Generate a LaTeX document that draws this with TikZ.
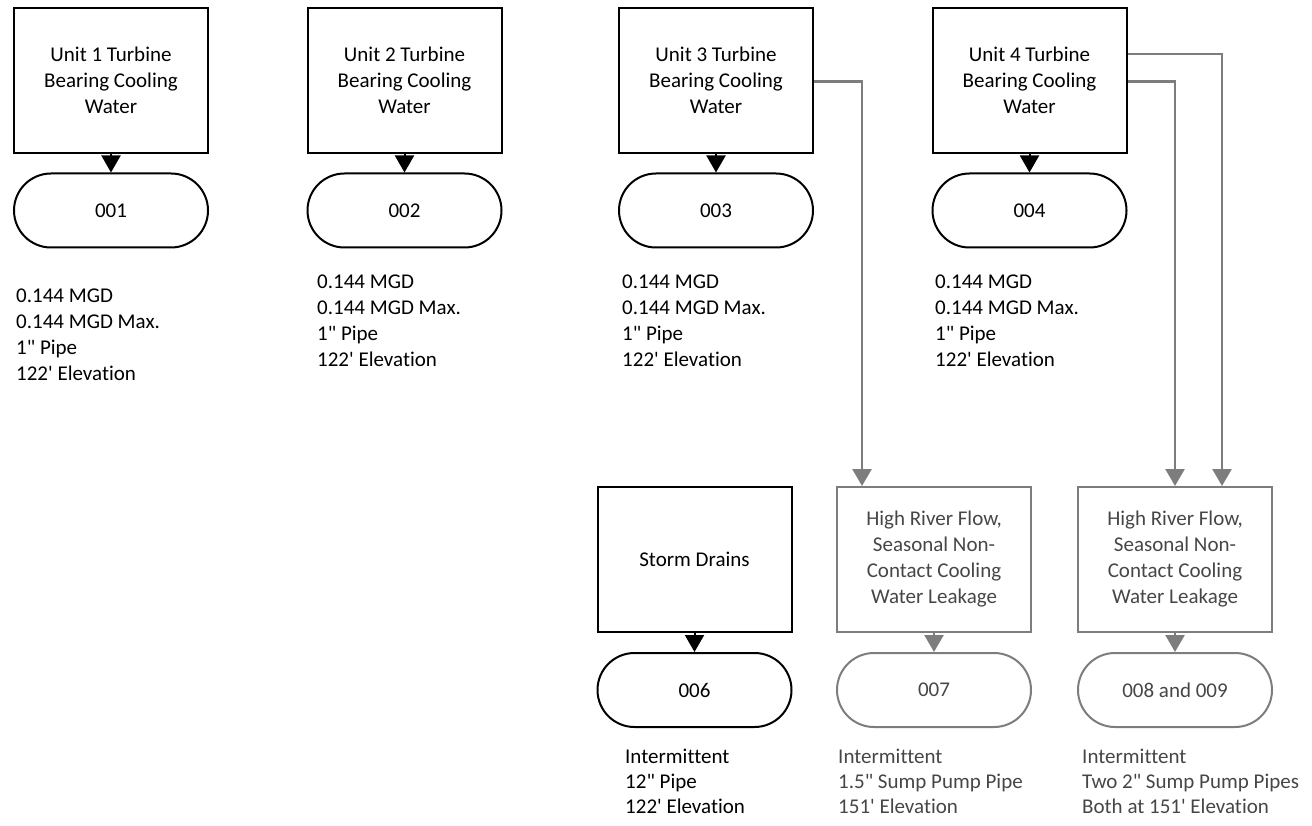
\documentclass[tikz,border=0pt]{standalone}
\usepackage{fontspec}
\setmainfont{Carlito}[Ligatures={NoCommon}]
\usetikzlibrary{arrows.meta}
\definecolor{leakgray}{RGB}{125,125,125}
\definecolor{leaktext}{RGB}{70,70,70}
\newcommand{\ft}{\textquotesingle}
\newcommand{\inch}{\textquotedbl}

\begin{document}
\begin{tikzpicture}[x=1pt,y=-1pt,
  every node/.style={font=\fontsize{21}{26}\selectfont},
  unitbox/.style={draw, line width=2pt, minimum width=194pt, minimum height=145pt, align=center, inner sep=0pt},
  outfall/.style={draw, line width=2pt, minimum width=194pt, minimum height=74pt, rounded corners=37pt, inner sep=0pt},
  leakbox/.style={unitbox, draw=leakgray, text=leaktext},
  leakout/.style={outfall, draw=leakgray, text=leaktext},
  info/.style={anchor=north west, align=left, inner sep=0pt},
  flow/.style={line width=2pt, -{Triangle[length=17pt,width=19pt]}},
  leakflow/.style={flow, leakgray, line width=2.5pt, rounded corners=0pt}]
 \useasboundingbox (0,0) rectangle (1312,826);
 % turbine bearing cooling water
 \node[unitbox] (u1) at (111,80.5) {Unit 1 Turbine\\Bearing Cooling\\Water};
 \node[unitbox] (u2) at (404.5,80.5) {Unit 2 Turbine\\Bearing Cooling\\Water};
 \node[unitbox] (u3) at (716,80.5) {Unit 3 Turbine\\Bearing Cooling\\Water};
 \node[unitbox] (u4) at (1029.5,80.5) {Unit 4 Turbine\\Bearing Cooling\\Water};
 \node[outfall] (o1) at (111,210.5) {001};
 \node[outfall] (o2) at (404.5,210.5) {002};
 \node[outfall] (o3) at (716,210.5) {003};
 \node[outfall] (o4) at (1029.5,210.5) {004};
 \draw[flow] (u1) -- (o1);
 \draw[flow] (u2) -- (o2);
 \draw[flow] (u3) -- (o3);
 \draw[flow] (u4) -- (o4);
 \node[info] (t1) at (16,289) {0.144 MGD\\0.144 MGD Max.\\1\inch{} Pipe\\122\ft{} Elevation};
 \node[info] (t2) at (317,275) {0.144 MGD\\0.144 MGD Max.\\1\inch{} Pipe\\122\ft{} Elevation};
 \node[info] (t3) at (622,275) {0.144 MGD\\0.144 MGD Max.\\1\inch{} Pipe\\122\ft{} Elevation};
 \node[info] (t4) at (935,275) {0.144 MGD\\0.144 MGD Max.\\1\inch{} Pipe\\122\ft{} Elevation};
 % storm drains and leakage
 \node[unitbox] (storm) at (694.5,559.5) {Storm Drains};
 \node[leakbox] (lk7) at (934,559.5) {High River Flow,\\Seasonal Non-\\Contact Cooling\\Water Leakage};
 \node[leakbox] (lk8) at (1175,559.5) {High River Flow,\\Seasonal Non-\\Contact Cooling\\Water Leakage};
 \node[outfall] (o6) at (694.5,690) {006};
 \node[leakout] (o7) at (934,690) {007};
 \node[leakout] (o8) at (1175,690) {008 and 009};
 \draw[flow] (storm) -- (o6);
 \draw[leakflow] (lk7) -- (o7);
 \draw[leakflow] (lk8) -- (o8);
 \draw[leakflow] ([yshift=-1pt]u3.east) -| ([xshift=-72pt]lk7.north);
 \draw[leakflow] ([yshift=-1pt]u4.east) -| (lk8.north);
 \draw[leakflow] ([yshift=26.5pt]u4.east) -| ([xshift=47pt]lk8.north);
 \node[info, font=\fontsize{21}{25}\selectfont] (t6) at (625,749) {Intermittent\\12\inch{} Pipe\\122\ft{} Elevation};
 \node[info, font=\fontsize{21}{25}\selectfont, text=leaktext] (t7) at (838,749) {Intermittent\\1.5\inch{} Sump Pump Pipe\\151\ft{} Elevation};
 \node[info, font=\fontsize{21}{25}\selectfont, text=leaktext] (t8) at (1082,749) {Intermittent\\Two 2\inch{} Sump Pump Pipes\\Both at 151\ft{} Elevation};
\end{tikzpicture}
\end{document}
